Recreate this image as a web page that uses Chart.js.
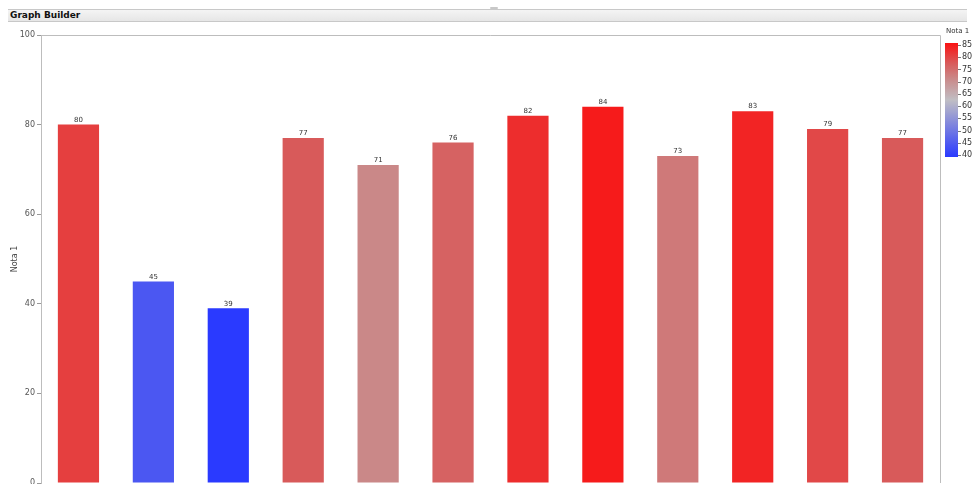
<!DOCTYPE html>
<html>
<head>
<meta charset="utf-8">
<script src="https://cdn.jsdelivr.net/npm/chart.js@4"></script>
<style>
  html, body { margin: 0; padding: 0; background: #fff; }
  #wrap { position: relative; width: 972px; height: 484px; overflow: hidden; }
  #header {
    position: absolute; left: 8px; top: 9px; width: 957px; height: 11px;
    background: linear-gradient(#f4f4f4, #e6e6e6);
    border-top: 1px solid #c8c8c8; border-bottom: 1px solid #c8c8c8;
    font: bold 9px "DejaVu Sans", sans-serif; color: #111; line-height: 11px;
    padding-left: 2px; box-sizing: content-box;
  }
  #grip { position: absolute; left: 490px; top: 7px; width: 8px; height: 2px; background: #c8c8c8; border-radius: 1px; }
  canvas { position: absolute; left: 0; top: 0; }
</style>
</head>
<body>
<div id="wrap">
  <canvas id="chart" width="972" height="484"></canvas>
  <div id="header">Graph Builder</div>
  <div id="grip"></div>
</div>
<script>
// bar values (one bar per row)
const rows = ['1', '2', '3', '4', '5', '6', '7', '8', '9', '10', '11', '12'];
const nota1 = [80, 45, 39, 77, 71, 76, 82, 84, 73, 83, 79, 77];
const yTicks = [0, 20, 40, 60, 80, 100];
const legendTicks = [85, 80, 75, 70, 65, 60, 55, 50, 45, 40];

// blue -> gray -> red colour scale for Nota 1
const scaleStops = [
    [40, [42, 58, 255]],
    [62.5, [192, 190, 196]],
    [71, [202, 136, 136]],
    [77, [216, 90, 90]],
    [85, [250, 18, 18]]
];

function scaleColor(v) {
    if (v <= scaleStops[0][0]) return rgb(scaleStops[0][1]);
    for (let i = 1; i < scaleStops.length; i++) {
        const [v1, c1] = scaleStops[i];
        const [v0, c0] = scaleStops[i - 1];
        if (v <= v1) {
            const t = (v - v0) / (v1 - v0);
            return rgb(c0.map((c, k) => c + (c1[k] - c) * t));
        }
    }
    return rgb(scaleStops[scaleStops.length - 1][1]);
}

function rgb(c) {
    return `rgb(${c.map(Math.round).join(',')})`;
}

const FONT = '"DejaVu Sans", sans-serif';

// value labels above each bar
const valueLabels = {
    id: 'valueLabels',
    afterDatasetsDraw(chart) {
        const { ctx } = chart;
        const meta = chart.getDatasetMeta(0);
        ctx.save();
        ctx.font = `7px ${FONT}`;
        ctx.fillStyle = '#333';
        ctx.textAlign = 'center';
        ctx.textBaseline = 'bottom';
        meta.data.forEach((bar, i) => {
            ctx.fillText(nota1[i], bar.x, bar.y - 1);
        });
        ctx.restore();
    }
};

// frame around the plot + gradient colour legend on the right
const frameAndLegend = {
    id: 'frameAndLegend',
    afterDraw(chart) {
        const { ctx, chartArea: a } = chart;
        ctx.save();
        ctx.strokeStyle = '#bdbdbd';
        ctx.lineWidth = 1;
        ctx.beginPath();
        ctx.moveTo(a.left, a.top + 0.5);
        ctx.lineTo(a.right + 0.5, a.top + 0.5);
        ctx.lineTo(a.right + 0.5, a.bottom);
        ctx.stroke();

        // legend
        const lx = 945, lw = 13, top = 43, bottom = 157;
        ctx.font = `7px ${FONT}`;
        ctx.fillStyle = '#333';
        ctx.textAlign = 'left';
        ctx.textBaseline = 'middle';
        ctx.fillText('Nota 1', 946, 31);

        const hi = legendTicks[0], lo = legendTicks[legendTicks.length - 1];
        const grad = ctx.createLinearGradient(0, top, 0, bottom);
        for (let v = lo; v <= hi; v += 0.5) {
            grad.addColorStop((hi - v) / (hi - lo), scaleColor(v));
        }
        ctx.fillStyle = grad;
        ctx.fillRect(lx, top, lw, bottom - top);

        ctx.font = `8px ${FONT}`;
        ctx.fillStyle = '#333';
        ctx.strokeStyle = '#777';
        legendTicks.forEach(v => {
            const y = top + 2 + (hi - v) / (hi - lo) * (bottom - top - 4);
            ctx.beginPath();
            ctx.moveTo(lx + lw, Math.round(y) + 0.5);
            ctx.lineTo(lx + lw + 3, Math.round(y) + 0.5);
            ctx.stroke();
            ctx.fillText(v, lx + lw + 4, y);
        });
        ctx.restore();
    }
};

new Chart(document.getElementById('chart'), {
    type: 'bar',
    data: {
        labels: rows,
        datasets: [{
            data: nota1,
            backgroundColor: nota1.map(scaleColor),
            categoryPercentage: 1,
            barPercentage: 0.55
        }]
    },
    options: {
        responsive: false,
        animation: false,
        layout: { padding: { left: 0, top: 35, right: 32, bottom: 1 } },
        plugins: {
            legend: { display: false },
            tooltip: { enabled: false }
        },
        scales: {
            x: {
                display: false,
                offset: true
            },
            y: {
                min: 0,
                max: 100,
                afterFit: s => {
                    s.width = 41;
                    s.paddingTop = 0;
                    s.paddingBottom = 0;
                },
                afterBuildTicks: s => { s.ticks = yTicks.map(v => ({ value: v })); },
                ticks: {
                    color: '#555',
                    font: { family: FONT, size: 8 },
                    padding: 2
                },
                grid: {
                    drawOnChartArea: false,
                    tickLength: 4,
                    color: '#999'
                },
                border: { color: '#bdbdbd' },
                title: {
                    display: true,
                    text: 'Nota 1',
                    color: '#444',
                    font: { family: FONT, size: 8 },
                    padding: { top: 10, bottom: 6 }
                }
            }
        }
    },
    plugins: [valueLabels, frameAndLegend]
});
</script>
</body>
</html>
